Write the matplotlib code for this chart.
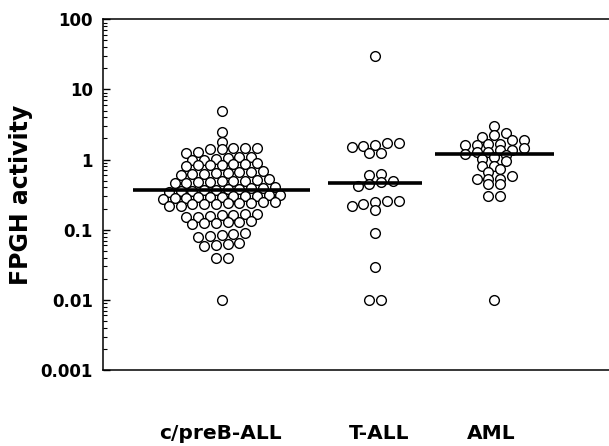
import numpy as np
import matplotlib
matplotlib.use("Agg")
import matplotlib.pyplot as plt
from matplotlib.ticker import LogLocator, FixedFormatter, FixedLocator, NullFormatter

# valores (actividad FPGH por paciente)
grupos = ["c/preB-ALL", "T-ALL", "AML"]

cpreb = [4.9, 2.5, 1.8,
         1.48, 1.47, 1.45, 1.42, 1.4, 1.28, 1.25,
         1.1, 1.08, 1.05, 1.02, 1.0, 0.98,
         0.88, 0.87, 0.86, 0.85, 0.84, 0.83, 0.82,
         0.68, 0.67, 0.66, 0.65, 0.64, 0.63, 0.62, 0.61,
         0.52, 0.51, 0.5, 0.5, 0.49, 0.48, 0.48, 0.47, 0.46,
         0.4, 0.39, 0.39, 0.38, 0.38, 0.37, 0.37, 0.36, 0.36, 0.35,
         0.31, 0.31, 0.3, 0.3, 0.3, 0.29, 0.29, 0.29, 0.28, 0.28, 0.27,
         0.25, 0.25, 0.24, 0.24, 0.24, 0.23, 0.23, 0.23, 0.22, 0.22,
         0.17, 0.165, 0.16, 0.16, 0.155, 0.15, 0.15,
         0.135, 0.13, 0.13, 0.125, 0.125, 0.12,
         0.09, 0.088, 0.085, 0.082, 0.08,
         0.065, 0.062, 0.06, 0.058,
         0.04, 0.04,
         0.01]

tall = [30, 1.72, 1.7, 1.6, 1.55, 1.5, 1.25, 1.25, 0.62, 0.6,
        0.5, 0.48, 0.45, 0.42, 0.26, 0.26, 0.25, 0.23, 0.22, 0.19,
        0.089, 0.029, 0.01, 0.01]

aml = [3.06, 2.4, 2.27, 2.1, 1.93, 1.9, 1.69, 1.69, 1.64, 1.6, 1.47,
       1.37, 1.37, 1.27, 1.27, 1.22, 1.18, 1.09, 1.03, 0.95, 0.82, 0.82,
       0.74, 0.66, 0.58, 0.53, 0.53, 0.53, 0.45, 0.45, 0.3, 0.3, 0.01]

medianas = [0.365, 0.47, 1.21]

# geometría (en píxeles de la figura)
ANCHO, ALTO, DPI = 609, 446, 100
IZQ, ARRIBA, ABAJO = 102.7, 19.3, 370.0
ax_w = ANCHO - IZQ
ax_h = ABAJO - ARRIBA
px_decada = ax_h / 5.0

centros = [119.0, 272.5, 391.5]      # centro de cada nube (px desde el eje)
medio_largo = [88.5, 47.0, 59.5]     # media longitud de la barra de mediana
pos_etiquetas = [118.0, 276.0, 389.0]
PASO = 11.75   # separación horizontal entre puntos de una fila
FILA = 5.8     # alto máximo de una fila (px)


def filas_x(valores):
    """Agrupa en filas de arriba hacia abajo y centra cada fila."""
    y = np.log10(valores) * px_decada
    orden = np.argsort(-y, kind="stable")
    filas, actual, inicio = [], [], None
    for i in orden:
        if actual and inicio - y[i] >= FILA:
            filas.append(actual)
            actual = []
        if not actual:
            inicio = y[i]
        actual.append(i)
    filas.append(actual)
    xs = np.zeros(len(valores))
    for f in filas:
        f = sorted(f, key=lambda i: y[i])
        n = len(f)
        for k, i in enumerate(f):
            xs[i] = (k - (n - 1) / 2) * PASO
    return xs


fig = plt.figure(figsize=(ANCHO / DPI, ALTO / DPI), dpi=DPI)
ax = fig.add_axes([IZQ / ANCHO, 1 - ABAJO / ALTO, ax_w / ANCHO, ax_h / ALTO])

for c, hw, med, vals in zip(centros, medio_largo, medianas, [cpreb, tall, aml]):
    xs = c + filas_x(vals)
    ax.plot(xs, vals, "o", ms=7.0, mfc="white", mec="black", mew=1.0,
            ls="none", zorder=2)
    ax.plot([c - hw, c + hw], [med, med], color="black", lw=2.6,
            solid_capstyle="butt", zorder=3)

ax.set_yscale("log")
ax.set_ylim(0.001, 100)
ax.set_xlim(0, ax_w)

ax.yaxis.set_major_locator(FixedLocator([0.001, 0.01, 0.1, 1, 10, 100]))
ax.yaxis.set_major_formatter(FixedFormatter(["0.001", "0.01", "0.1", "1", "10", "100"]))
ax.yaxis.set_minor_locator(LogLocator(base=10, subs=np.arange(2, 10), numticks=20))
ax.yaxis.set_minor_formatter(NullFormatter())
ax.tick_params(axis="y", which="major", direction="in", length=5, width=1.0,
               pad=7, labelsize=12)
ax.tick_params(axis="y", which="minor", direction="in", length=3, width=0.8)
for t in ax.get_yticklabels():
    t.set_fontweight("bold")

ax.set_xticks(pos_etiquetas)
ax.set_xticklabels(grupos, fontsize=14.5, fontweight="bold")
ax.tick_params(axis="x", length=0, pad=39)

ax.set_ylabel("FPGH activity", fontsize=17, fontweight="bold")
ax.yaxis.set_label_coords(-0.138, 0.5)

ax.spines["right"].set_visible(False)
for s in ("left", "bottom", "top"):
    ax.spines[s].set_linewidth(1.1)

fig.savefig("out.png", dpi=DPI)
